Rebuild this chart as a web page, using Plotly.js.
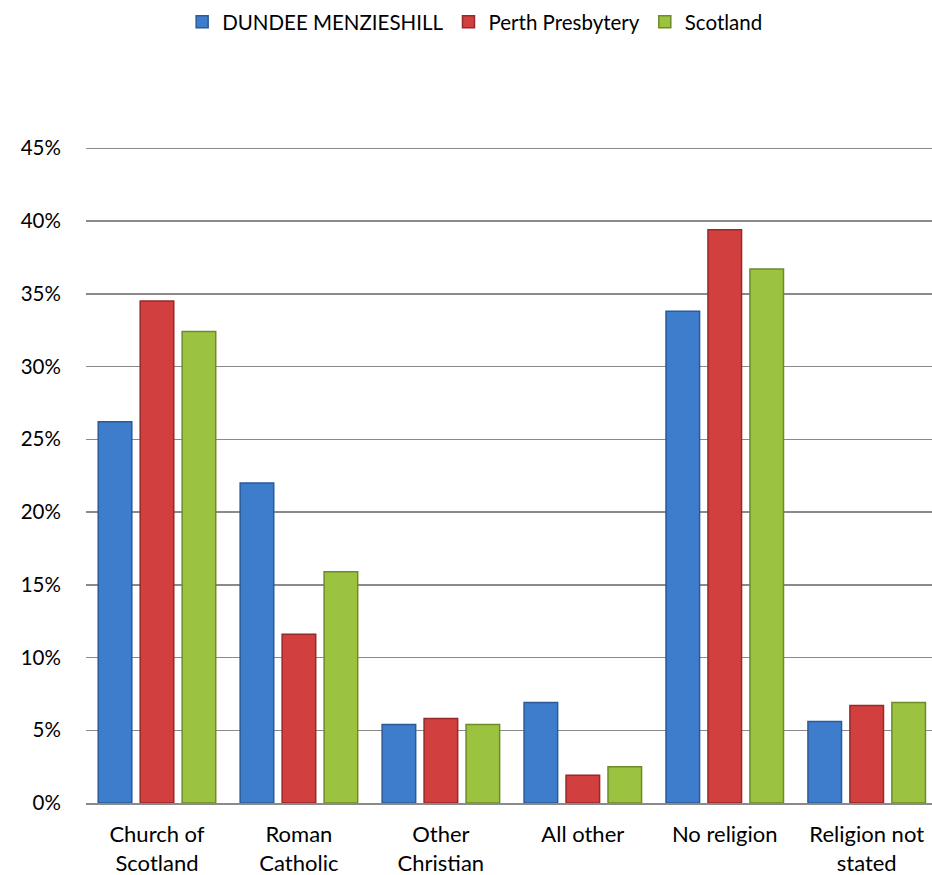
<!DOCTYPE html>
<html>
<head>
<meta charset="utf-8">
<script src="https://cdn.plot.ly/plotly-3.0.1.min.js"></script>
<style>html,body{margin:0;padding:0;background:#fff;}#chart{width:932px;height:875px;}</style>
</head>
<body>
<div id="chart"></div>
<script>
var categories = ["Church of<br>Scotland", "Roman<br>Catholic", "Other<br>Christian", "All other", "No religion", "Religion not<br>stated"];
var seriesNames = ["DUNDEE MENZIESHILL", "Perth Presbytery", "Scotland"];
var dundee = [26.2, 22.0, 5.4, 6.9, 33.8, 5.6];
var perth = [34.5, 11.6, 5.8, 1.9, 39.4, 6.7];
var scotland = [32.4, 15.9, 5.4, 2.5, 36.7, 6.9];
var yTickVals = [0, 5, 10, 15, 20, 25, 30, 35, 40, 45];
var yTickText = ["0%", "5%", "10%", "15%", "20%", "25%", "30%", "35%", "40%", "45%"];

var fills = ["#3E7DCC", "#D23F3F", "#9CC340"];
var edges = ["#2A5A99", "#962929", "#6C8C28"];
var values = [dundee, perth, scotland];

var traces = values.map(function (v, i) {
  return {
    type: "bar",
    name: seriesNames[i],
    x: categories,
    y: v,
    marker: { color: fills[i], line: { color: edges[i], width: 1.5 } },
    hoverinfo: "skip"
  };
});

var font = { family: "Lato, 'Liberation Sans', sans-serif", size: 20.5, color: "#000" };
var xfont = { family: "Lato, 'Liberation Sans', sans-serif", size: 22, color: "#000" };

var layout = {
  width: 932,
  height: 875,
  margin: { l: 86, r: 0, t: 141, b: 72 },
  paper_bgcolor: "#fff",
  plot_bgcolor: "#fff",
  font: font,
  barmode: "group",
  bargap: 0.113,
  bargroupgap: 0.2,
  showlegend: true,
  legend: {
    orientation: "h",
    x: 0.46,
    xanchor: "center",
    y: 1 + 139 / 662,
    yanchor: "top",
    font: font,
    itemwidth: 30,
    traceorder: "normal"
  },
  xaxis: {
    type: "category",
    range: [-0.5, 5.46],
    showgrid: false,
    showline: true,
    linecolor: "#8a8a8a",
    linewidth: 2,
    ticks: "outside",
    ticklen: 11,
    tickcolor: "rgba(0,0,0,0)",
    tickfont: xfont,
    fixedrange: true
  },
  yaxis: {
    range: [0, 45.5],
    tickvals: yTickVals,
    ticktext: yTickText,
    showgrid: true,
    gridcolor: "#8a8a8a",
    gridwidth: 1.5,
    zeroline: false,
    showline: false,
    ticks: "outside",
    ticklen: 20,
    tickcolor: "rgba(0,0,0,0)",
    tickfont: font,
    fixedrange: true
  }
};

Plotly.newPlot("chart", traces, layout, { displayModeBar: false, staticPlot: true });
</script>
</body>
</html>
